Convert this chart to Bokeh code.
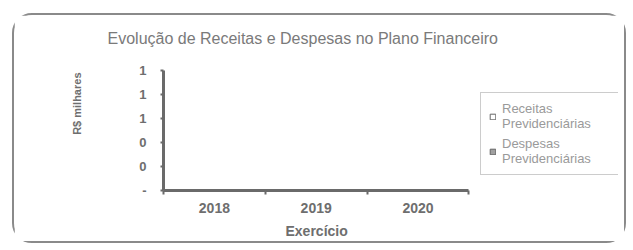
from bokeh.plotting import figure
from bokeh.models import FixedTicker, Legend, LegendItem, Title
from bokeh.embed import file_html
from bokeh.resources import INLINE

# ---- data ----
categories = ["2018", "2019", "2020"]
receitas = [0, 0, 0]
despesas = [0, 0, 0]
y_ticks = [0, 0.2, 0.4, 0.6, 0.8, 1.0]
y_tick_labels = ["-", "0", "0", "1", "1", "1"]
series_names = ["Receitas\nPrevidenciárias", "Despesas\nPrevidenciárias"]
title_text = "Evolução de Receitas e Despesas no Plano Financeiro"
x_title = "Exercício"
y_title = "R$ milhares"

FONT = "Liberation Sans"
TXT = "#6e6e6e"
AX = "#6a6a6a"

n = len(categories)
x_centers = [i + 0.5 for i in range(n)]
x_bounds = [float(i) for i in range(n + 1)]

p = figure(width=614, height=230, output_backend="svg", toolbar_location=None,
           x_range=(0, n * 1.49), y_range=(0, 1.0),
           min_border_left=149, min_border_right=10, min_border_top=55,
           min_border_bottom=55, margin=(13, 0, 0, 12))
p.styles = {"border": "2px solid #8a8a8a", "border-radius": "20px"}
p.background_fill_color = "white"
p.border_fill_color = "white"
p.outline_line_color = None
p.grid.visible = False

# main title (an empty second line lifts it above the plot area)
p.title = Title(text=title_text + "\n", align="left", offset=-56,
                text_font=FONT, text_font_style="normal", text_font_size="16px",
                text_color="#7a7a7a", standoff=13)

w = 0.3
r1 = p.vbar(x=[c - 0.16 for c in x_centers], top=receitas, width=w,
            fill_color="white", line_color="#666666")
r2 = p.vbar(x=[c + 0.16 for c in x_centers], top=despesas, width=w,
            fill_color="#a0a0a0", line_color="#666666")

xa = p.xaxis[0]
xa.bounds = (0, n)
xa.ticker = FixedTicker(ticks=x_centers, minor_ticks=x_bounds)
xa.major_label_overrides = {c: lab for c, lab in zip(x_centers, categories)}
xa.major_tick_in = 0
xa.major_tick_out = 0
xa.minor_tick_in = 0
xa.minor_tick_out = 4
xa.minor_tick_line_color = AX
xa.minor_tick_line_width = 2
xa.axis_line_color = AX
xa.axis_line_width = 3
xa.major_label_text_font = FONT
xa.major_label_text_font_style = "bold"
xa.major_label_text_font_size = "14px"
xa.major_label_text_color = TXT
xa.major_label_standoff = 8

# x title, centred under the category axis
xt = Title(text=x_title, align="left", offset=122, text_font=FONT,
           text_font_style="bold", text_font_size="14px", text_color=TXT,
           standoff=10)
p.add_layout(xt, "below")

ya = p.yaxis[0]
ya.ticker = FixedTicker(ticks=y_ticks, minor_ticks=[])
ya.major_label_overrides = {t: lab for t, lab in zip(y_ticks, y_tick_labels)}
ya.major_tick_in = 0
ya.major_tick_out = 3
ya.major_tick_line_color = AX
ya.major_tick_line_width = 2
ya.axis_line_color = AX
ya.axis_line_width = 3
ya.major_label_text_font = FONT
ya.major_label_text_font_style = "bold"
ya.major_label_text_font_size = "13px"
ya.major_label_text_color = TXT
ya.major_label_standoff = 14

# y title, placed in the upper part of the axis as in the original
yt = Title(text=y_title, align="right", offset=2, text_font=FONT,
           text_font_style="bold", text_font_size="11px", text_color=TXT,
           standoff=108)
p.add_layout(yt, "left")

legend = Legend(items=[LegendItem(label=series_names[0], renderers=[r1]),
                       LegendItem(label=series_names[1], renderers=[r2])],
                location=(317, 15))
legend.label_text_font = FONT
legend.label_text_font_size = "13px"
legend.label_text_color = "#9a9a9a"
legend.glyph_width = 7
legend.glyph_height = 7
legend.label_standoff = 6
legend.label_width = 110
legend.spacing = 5
legend.padding = 8
legend.margin = 0
legend.border_line_color = "#9a9a9a"
legend.border_line_width = 1
legend.background_fill_color = "white"
p.add_layout(legend, "center")

open("out.html", "w").write(file_html(p, INLINE))
